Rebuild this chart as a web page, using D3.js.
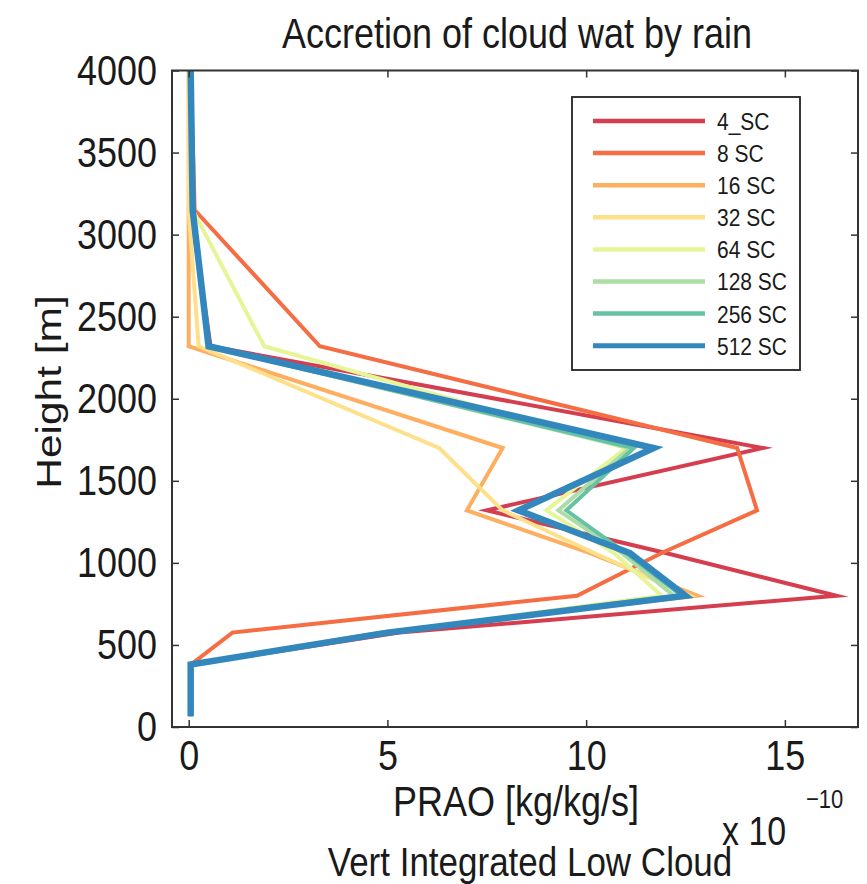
<!DOCTYPE html>
<html>
<head>
<meta charset="utf-8">
<script src="https://cdn.jsdelivr.net/npm/d3@7"></script>
<style>
  body { margin: 0; background: #fff; }
  text { font-family: "Liberation Sans", Arial, Helvetica, sans-serif; fill: #1a1a1a; }
</style>
</head>
<body>
<svg id="chart" width="867" height="884"></svg>
<script>
// ---- data (PRAO values in units of 1e-10 kg/kg/s) ----
const heights = [65, 380, 575, 800, 1060, 1320, 1700, 2320, 3150, 4000];
const seriesNames = ["4_SC", "8 SC", "16 SC", "32 SC", "64 SC", "128 SC", "256 SC", "512 SC"];
const sc4   = [0.05, 0.05, 5.3, 16.3, 12.0, 7.5, 14.45, 0.55, 0.05, 0.05];
const sc8   = [0.05, 0.05, 1.1, 9.77, 11.9, 14.3, 13.8, 3.3, 0.15, 0.05];
const sc16  = [0.05, 0.05, 4.8, 12.8, 10.1, 7.0, 7.9, 0.0, 0.0, 0.0];
const sc32  = [0.05, 0.05, 4.9, 12.6, 10.2, 7.9, 6.3, 0.25, 0.0, 0.0];
const sc64  = [0.05, 0.05, 5.0, 11.9, 10.7, 9.0, 11.0, 1.9, 0.1, 0.05];
const sc128 = [0.05, 0.05, 5.0, 12.2, 10.9, 9.3, 11.1, 0.5, 0.1, 0.05];
const sc256 = [0.05, 0.05, 5.0, 12.4, 11.0, 9.5, 11.2, 0.5, 0.1, 0.05];
const sc512 = [0.05, 0.05, 5.0, 12.5, 11.1, 8.3, 11.7, 0.5, 0.1, 0.05];
const seriesValues = [sc4, sc8, sc16, sc32, sc64, sc128, sc256, sc512];
const colors = ["#d53e4f", "#f46d43", "#fdae61", "#fee08b", "#e6f598", "#abdda4", "#66c2a5", "#3288bd"];
const xTicks = [0, 5, 10, 15];
const yTicks = [0, 500, 1000, 1500, 2000, 2500, 3000, 3500, 4000];
const xDomain = [-0.42, 16.84];
const yDomain = [0, 4000];

// ---- layout ----
const svg = d3.select("#chart");
const L = 172, R = 858, T = 70.5, B = 727;
const x = d3.scaleLinear().domain(xDomain).range([L, R]);
const y = d3.scaleLinear().domain(yDomain).range([B, T]);
const tickLen = 7;
const K = 1.18; // vertical stretch of glyphs seen in the reference

function addText(px, py, str, size, anchor) {
  return svg.append("text")
    .attr("transform", `translate(${px},${py}) scale(1,${K})`)
    .attr("text-anchor", anchor || "start")
    .attr("font-size", size).text(str);
}

// lines
const line = d3.line().x(d => x(d[0])).y(d => y(d[1]));
const gLines = svg.append("g");
seriesValues.forEach((vals, i) => {
  const pts = vals.map((v, j) => [v, heights[j]]);
  gLines.append("path")
    .attr("d", line(pts))
    .attr("fill", "none")
    .attr("stroke", colors[i])
    .attr("stroke-width", i === 7 ? 6.5 : 4)
    .attr("stroke-linejoin", "miter")
    .attr("stroke-miterlimit", 10);
});

// axes (ticks inward on all four sides)
const axStroke = "#333";
const gB = svg.append("g").attr("transform", `translate(0,${B})`)
  .call(d3.axisBottom(x).tickValues(xTicks).tickSize(-tickLen).tickPadding(11).tickFormat(d3.format("d")));
const gT = svg.append("g").attr("transform", `translate(0,${T})`)
  .call(d3.axisTop(x).tickValues(xTicks).tickSize(-tickLen).tickFormat(""));
const gL = svg.append("g").attr("transform", `translate(${L},0)`)
  .call(d3.axisLeft(y).tickValues(yTicks).tickSize(-tickLen).tickPadding(15).tickFormat(d3.format("d")));
const gR = svg.append("g").attr("transform", `translate(${R},0)`)
  .call(d3.axisRight(y).tickValues(yTicks).tickSize(-tickLen).tickFormat(""));
[gB, gT, gL, gR].forEach(g => {
  g.select(".domain").remove();
  g.selectAll(".tick line").attr("stroke", axStroke).attr("stroke-width", 1.5);
  g.selectAll(".tick text").attr("font-size", 36).attr("fill", "#1a1a1a")
    .attr("font-family", "Liberation Sans, Arial, sans-serif")
    .attr("transform", `scale(1,${K})`);
});
svg.append("rect").attr("x", L).attr("y", T).attr("width", R - L).attr("height", B - T)
  .attr("fill", "none").attr("stroke", axStroke).attr("stroke-width", 2);

// titles / labels
addText(517, 48, "Accretion of cloud wat by rain", 36, "middle");
addText(516, 816, "PRAO [kg/kg/s]", 36, "middle");
addText(530, 876, "Vert Integrated Low Cloud", 35, "middle");
svg.append("text")
  .attr("transform", `translate(61,392) scale(1,${K}) rotate(-90)`)
  .attr("text-anchor", "middle").attr("font-size", 36).text("Height [m]");
addText(722, 845, "x 10", 34, "start");
addText(806, 808, "\u221210", 22, "start");

// legend
const lg = svg.append("g");
lg.append("rect").attr("x", 572).attr("y", 97).attr("width", 228).attr("height", 273)
  .attr("fill", "#fff").attr("stroke", "#222").attr("stroke-width", 1.8);
seriesNames.forEach((name, i) => {
  const yy = 121 + i * 32.1;
  lg.append("line").attr("x1", 593).attr("x2", 705).attr("y1", yy).attr("y2", yy)
    .attr("stroke", colors[i]).attr("stroke-width", i === 7 ? 5 : 4.5);
  lg.append("text")
    .attr("transform", `translate(717,${yy}) scale(1,${K})`)
    .attr("dy", "0.36em")
    .attr("font-size", 21).attr("fill", "#333").text(name);
});
</script>
</body>
</html>
